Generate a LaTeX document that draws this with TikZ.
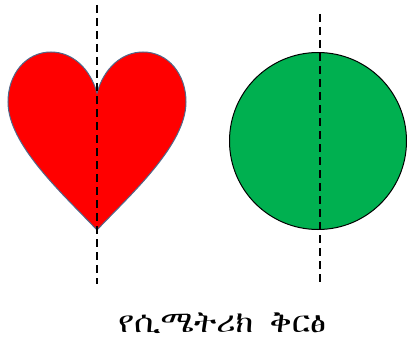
\documentclass[tikz,border=0pt]{standalone}
\usepackage{fontspec}
\newfontfamily\ethfont[FakeStretch=1.1]{FreeSerif}
\definecolor{heartred}{HTML}{FF0000}
\definecolor{heartedge}{HTML}{50688A}
\definecolor{circgreen}{HTML}{00B050}
\tikzset{
  axisline/.style={black, line width=1.3pt, dash pattern=on 8pt off 5pt},
  heartshape/.style={fill=heartred, draw=heartedge, line width=1pt},
  circshape/.style={circle, fill=circgreen, draw=black, line width=1pt, minimum size=177pt, inner sep=0pt},
  caption/.style={font=\ethfont\fontsize{30}{34}\selectfont, inner sep=0pt, anchor=base}
}
\begin{document}
\begin{tikzpicture}[x=1pt,y=-1pt]
\useasboundingbox (0,0) rectangle (407,345);
% heart
\draw[heartshape] (97,93)
  .. controls (104,68) and (122,52) .. (143,52)
  .. controls (168,52) and (186,74) .. (186,102)
  .. controls (186,145) and (130,195) .. (97,230)
  .. controls (64,195) and (8,145) .. (8,102)
  .. controls (8,74) and (26,52) .. (51,52)
  .. controls (72,52) and (90,68) .. (97,93) -- cycle;
\coordinate (h1) at (97,5);
\coordinate (h2) at (97,284);
\draw[axisline] (h1) -- (h2);
% circle
\node[circshape] (c) at (318,141) {};
\coordinate (c1) at (320,14);
\coordinate (c2) at (320,284);
\draw[axisline] (c1) -- (c2);
% caption
\node[caption] (t) at (222,332) {የሲሜትሪክ\hspace{8pt} ቅርፅ};
\end{tikzpicture}
\end{document}
